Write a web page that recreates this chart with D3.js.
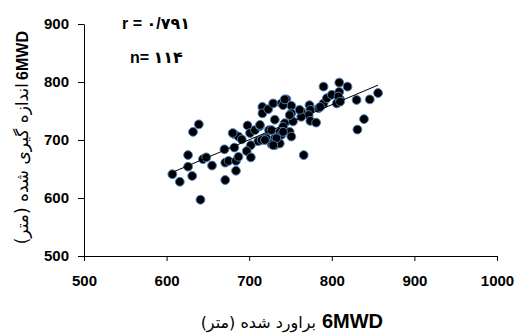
<!DOCTYPE html>
<html><head><meta charset="utf-8">
<script src="https://cdn.jsdelivr.net/npm/d3@7"></script>
<style>html,body{margin:0;padding:0;background:#fff;}svg{display:block;}</style>
</head><body>
<script>
// estimated 6MWD (x) and measured 6MWD (y)
const estimated = [607,616,626,626,631,632,639,641,644,648,655,
670,671,675,671,682,684,684,687,682,687,691,680,
698,701,702,697,702,707,713,711,719,716,716,723,724,
729,739,745,751,751,763,773,774,772,774,781,763,784,790,794,790,800,809,809,819,810,806,830,846,856,839,831,766,
743,753,731,741,749,727,737,721,731,739,751,731,715,727,737,719,
741,749,761,786,808,810,733,729,741,743,713];
const measured = [641,628,674,654,638,714,727,597,667,670,656,
684,661,664,631,687,664,647,671,710,706,701,712,
725,712,691,681,670,717,724,698,703,757,746,753,717,
763,763,770,759,746,749,760,752,743,733,730,740,755,763,772,792,778,799,783,792,770,763,769,770,781,736,718,674,
729,732,735,723,714,717,714,703,703,709,706,691,700,693,694,700,
760,743,752,757,775,766,703,691,714,770,726];
const xTicks = [500,600,700,800,900,1000];
const yTicks = [500,600,700,800,900];
const rText = "r = \u06F0/\u06F7\u06F9\u06F1";
const nText = "n= \u06F1\u06F1\u06F4";
const xTitleLatin = "6MWD";
const xTitlePersian = "براورد شده (متر)";
const yTitleLatin = "6MWD";
const yTitlePersian = "اندازه گیری شده (متر)";

const W = 524, H = 334;
const svg = d3.select("body").append("svg").attr("width", W).attr("height", H);
const x = d3.scaleLinear().domain([500, 1000]).range([84, 497]);
const y = d3.scaleLinear().domain([500, 900]).range([256, 24]);
const font = "'Liberation Sans', Arial, 'DejaVu Sans', sans-serif";

// axes
const xAxis = svg.append("g").attr("transform", `translate(0,${y(500)})`)
  .call(d3.axisBottom(x).tickValues(xTicks).tickFormat(d3.format("d")).tickSize(5).tickSizeOuter(0).tickPadding(11));
const yAxis = svg.append("g").attr("transform", `translate(${x(500)},0)`)
  .call(d3.axisLeft(y).tickValues(yTicks).tickFormat(d3.format("d")).tickSize(6).tickSizeOuter(0).tickPadding(9));
[xAxis, yAxis].forEach(g => {
  g.select(".domain").attr("stroke", "#000").attr("stroke-width", 1);
  g.selectAll(".tick line").attr("stroke", "#000");
  g.selectAll(".tick text").attr("font-family", font).attr("font-weight", "bold")
    .attr("font-size", 15).attr("fill", "#000");
});
xAxis.selectAll(".tick text").attr("dy", "0.9em");

// points
svg.append("g").selectAll("circle").data(estimated.map((v, i) => [v, measured[i]]))
  .join("circle")
  .attr("cx", d => x(d[0])).attr("cy", d => y(d[1])).attr("r", 4.4)
  .attr("fill", "#000").attr("stroke", "#4a7ebb").attr("stroke-width", 1);

// linear trendline (least squares)
const mx = d3.mean(estimated), my = d3.mean(measured);
let sxy = 0, sxx = 0;
estimated.forEach((v, i) => { sxy += (v - mx) * (measured[i] - my); sxx += (v - mx) * (v - mx); });
const b = sxy / sxx, a = my - b * mx;
const [x0, x1] = d3.extent(estimated);
svg.append("line")
  .attr("x1", x(x0)).attr("y1", y(a + b * x0))
  .attr("x2", x(x1)).attr("y2", y(a + b * x1))
  .attr("stroke", "#000").attr("stroke-width", 1);

// annotations
svg.append("text").attr("x", 122).attr("y", 29).attr("font-family", font)
  .attr("font-weight", "bold").attr("font-size", 16).attr("fill", "#000").text(rText);
svg.append("text").attr("x", 130).attr("y", 63).attr("font-family", font)
  .attr("font-weight", "bold").attr("font-size", 16).attr("fill", "#000").text(nText);

// x title
svg.append("text").attr("x", 383).attr("y", 328).attr("text-anchor", "end")
  .attr("font-family", font).attr("font-weight", "bold").attr("font-size", 20)
  .attr("fill", "#000").text(xTitleLatin);
svg.append("text").attr("x", 316).attr("y", 328).attr("text-anchor", "start")
  .attr("direction", "rtl").attr("font-family", "'DejaVu Sans', sans-serif")
  .attr("font-size", 16).attr("fill", "#000").text(xTitlePersian);

// y title
const yt = svg.append("g").attr("transform", "translate(28,0) rotate(-90)");
yt.append("text").attr("x", -31).attr("y", 0).attr("text-anchor", "end")
  .attr("font-family", font).attr("font-weight", "bold").attr("font-size", 16)
  .attr("fill", "#000").text(yTitleLatin);
yt.append("text").attr("x", -83).attr("y", 0).attr("text-anchor", "start")
  .attr("direction", "rtl").attr("font-family", "'DejaVu Sans', sans-serif")
  .attr("font-size", 17).attr("fill", "#000").text(yTitlePersian);
</script>
</body></html>
